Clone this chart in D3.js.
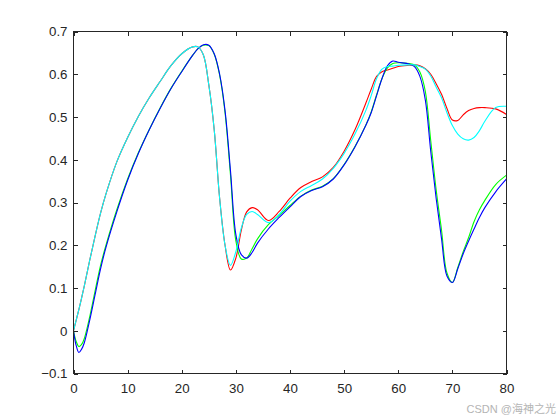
<!DOCTYPE html>
<html>
<head>
<meta charset="utf-8">
<script src="https://cdn.jsdelivr.net/npm/d3@7"></script>
<style>
  html, body { margin: 0; padding: 0; background: #fff; }
  svg { display: block; }
  text { font-family: "Liberation Sans", Arial, Helvetica, sans-serif; }
</style>
</head>
<body>
<svg id="chart" width="560" height="420"></svg>
<script>
// ---- data ----
const xValues = [0,0.5,1,1.5,2,3,4,5,6,8,10,12,14,16,18,20,22,23,24,25,26,27,28,29,30,31,32,33,34,36,38,40,42,44,46,48,50,52,54,55,56,57,58,59,60,62,63,64,65,66,67,68,69,70,71,72,73,74,75,76,78,80];

const redValues = [0,0.025,0.05,0.077,0.105,0.165,0.222,0.275,0.32,0.395,0.452,0.502,0.545,0.583,0.62,0.648,0.664,0.664,0.645,0.575,0.47,0.31,0.2,0.142,0.17,0.235,0.278,0.288,0.283,0.258,0.279,0.31,0.335,0.349,0.36,0.382,0.42,0.47,0.532,0.565,0.595,0.606,0.61,0.614,0.618,0.621,0.622,0.62,0.613,0.6,0.578,0.553,0.52,0.493,0.492,0.505,0.515,0.52,0.522,0.522,0.519,0.506];

const greenValues = [0,-0.025,-0.037,-0.032,-0.018,0.033,0.094,0.153,0.2,0.283,0.355,0.417,0.471,0.521,0.567,0.607,0.644,0.66,0.668,0.667,0.647,0.598,0.51,0.365,0.21,0.168,0.17,0.192,0.215,0.248,0.27,0.293,0.315,0.329,0.338,0.356,0.389,0.431,0.481,0.512,0.552,0.59,0.615,0.625,0.627,0.625,0.622,0.605,0.56,0.445,0.33,0.235,0.135,0.113,0.148,0.185,0.218,0.255,0.283,0.305,0.342,0.364];

const blueValues = [0,-0.035,-0.051,-0.043,-0.028,0.025,0.085,0.145,0.195,0.278,0.352,0.415,0.47,0.52,0.566,0.606,0.644,0.66,0.669,0.668,0.648,0.6,0.515,0.375,0.225,0.178,0.17,0.183,0.205,0.238,0.265,0.29,0.314,0.328,0.337,0.355,0.388,0.43,0.48,0.51,0.55,0.59,0.62,0.631,0.628,0.624,0.618,0.595,0.54,0.42,0.31,0.215,0.128,0.113,0.145,0.18,0.21,0.238,0.265,0.288,0.325,0.355];

const cyanValues = [0,0.025,0.05,0.077,0.105,0.165,0.222,0.275,0.32,0.395,0.452,0.502,0.545,0.583,0.62,0.648,0.664,0.664,0.645,0.575,0.47,0.31,0.2,0.153,0.185,0.24,0.272,0.279,0.272,0.253,0.272,0.303,0.326,0.34,0.355,0.38,0.415,0.46,0.515,0.55,0.59,0.612,0.618,0.619,0.621,0.622,0.622,0.618,0.612,0.596,0.57,0.545,0.51,0.48,0.46,0.449,0.446,0.452,0.468,0.49,0.522,0.525];

const xTicks = [0,10,20,30,40,50,60,70,80];
const yTicks = [-0.1,0,0.1,0.2,0.3,0.4,0.5,0.6,0.7];

const seriesList = [
  { name: "red",   values: redValues,   color: "#ff0000" },
  { name: "green", values: greenValues, color: "#00ff00" },
  { name: "blue",  values: blueValues,  color: "#0000ff" },
  { name: "cyan",  values: cyanValues,  color: "#00ffff" }
];

// ---- layout ----
const svg = d3.select("#chart");
const x = d3.scaleLinear().domain([0, 80]).range([73.5, 506.5]);
const y = d3.scaleLinear().domain([-0.1, 0.7]).range([373.5, 31.5]);
const axisColor = "#262626";
const tickLen = 4;
const fontSize = "13.3px";

// ---- lines ----
svg.append("clipPath").attr("id", "plotclip")
  .append("rect").attr("x", 73.5).attr("y", 31.5).attr("width", 433).attr("height", 342);

const line = d3.line()
  .x(d => x(d[0]))
  .y(d => y(d[1]))
  .curve(d3.curveCatmullRom.alpha(0.5));

const lineG = svg.append("g").attr("clip-path", "url(#plotclip)");
seriesList.forEach(s => {
  lineG.append("path")
    .datum(xValues.map((xv, i) => [xv, s.values[i]]))
    .attr("fill", "none")
    .attr("stroke", s.color)
    .attr("stroke-width", 1.1)
    .attr("stroke-linejoin", "round")
    .attr("d", line);
});

// ---- axes ----
function styleAxis(g, showText) {
  g.select(".domain").remove();
  g.selectAll(".tick line").attr("stroke", axisColor).attr("shape-rendering", "crispEdges");
  g.selectAll(".tick text")
    .attr("fill", axisColor)
    .style("font-size", fontSize)
    .style("font-family", '"Liberation Sans", Arial, Helvetica, sans-serif');
  if (!showText) g.selectAll(".tick text").remove();
}

const fmtY = d => (Math.abs(d) < 1e-9 ? "0" : d3.format("")(+d.toFixed(1)));

svg.append("g")
  .attr("transform", `translate(0,${y(-0.1)})`)
  .call(d3.axisBottom(x).tickValues(xTicks).tickSizeInner(-tickLen).tickSizeOuter(0).tickPadding(10).tickFormat(d3.format("d")))
  .call(g => styleAxis(g, true));

svg.append("g")
  .attr("transform", `translate(0,${y(0.7)})`)
  .call(d3.axisTop(x).tickValues(xTicks).tickSizeInner(-tickLen).tickSizeOuter(0))
  .call(g => styleAxis(g, false));

svg.append("g")
  .attr("transform", `translate(${x(0)},0)`)
  .call(d3.axisLeft(y).tickValues(yTicks).tickSizeInner(-tickLen).tickSizeOuter(0).tickPadding(6).tickFormat(fmtY))
  .call(g => styleAxis(g, true));

svg.append("g")
  .attr("transform", `translate(${x(80)},0)`)
  .call(d3.axisRight(y).tickValues(yTicks).tickSizeInner(-tickLen).tickSizeOuter(0))
  .call(g => styleAxis(g, false));

// box
svg.append("rect")
  .attr("x", x(0)).attr("y", y(0.7))
  .attr("width", x(80) - x(0)).attr("height", y(-0.1) - y(0.7))
  .attr("fill", "none").attr("stroke", axisColor).attr("stroke-width", 1)
  .attr("shape-rendering", "crispEdges");

// watermark
svg.append("text")
  .attr("x", 556).attr("y", 413)
  .attr("text-anchor", "end")
  .attr("fill", "#b4b4b4")
  .style("font-size", "11px")
  .style("font-family", '"Liberation Sans", "Noto Sans CJK SC", Arial, sans-serif')
  .text("CSDN @海神之光");
</script>
</body>
</html>
